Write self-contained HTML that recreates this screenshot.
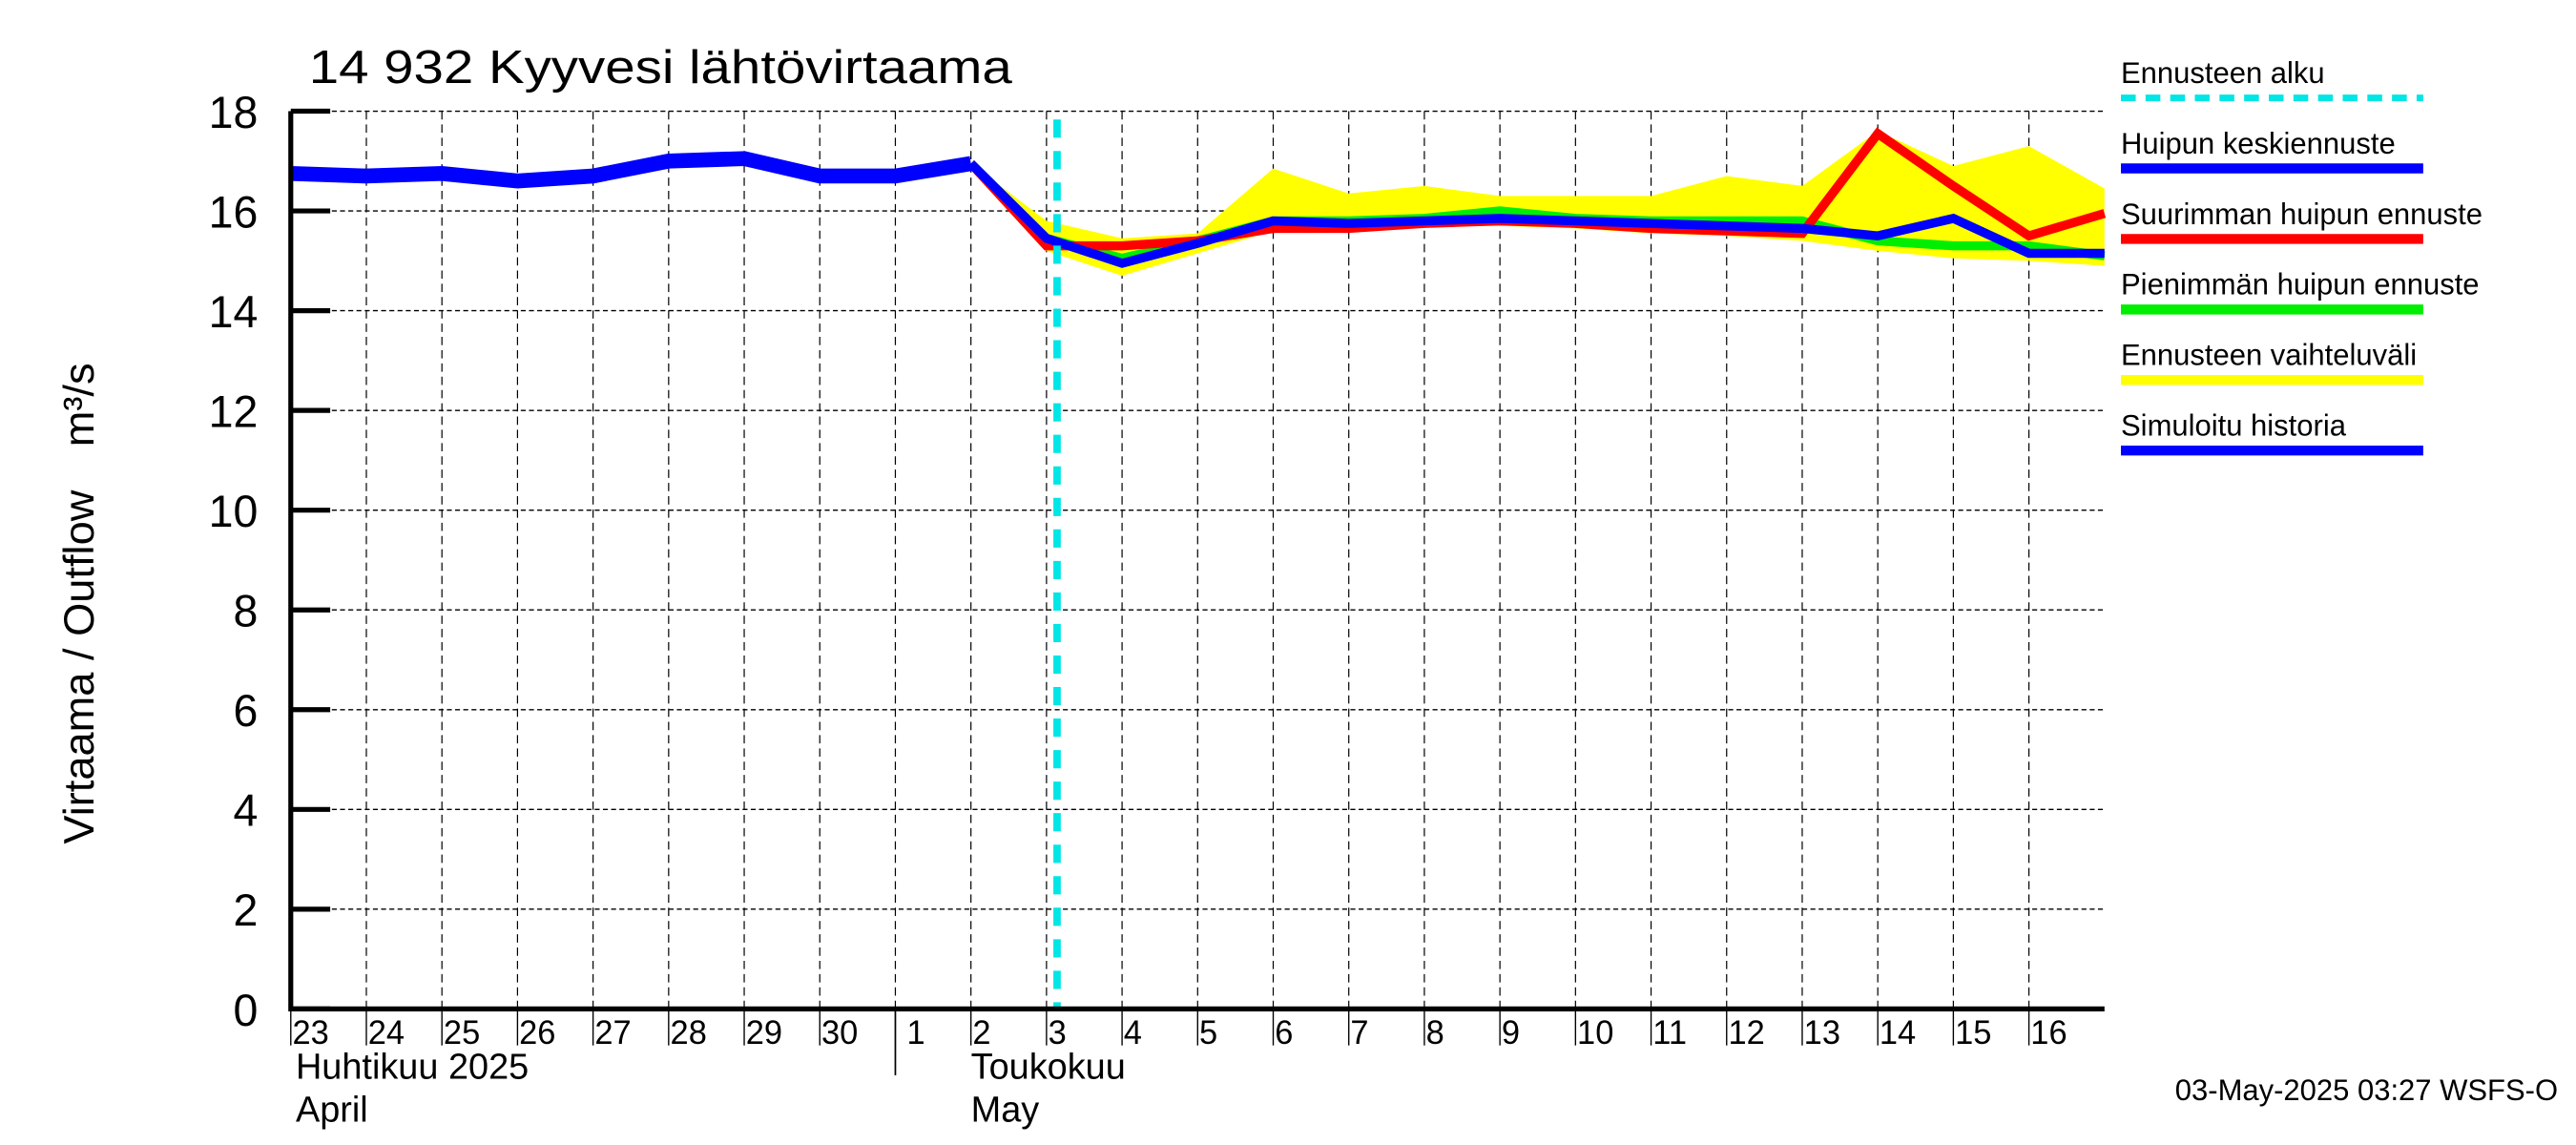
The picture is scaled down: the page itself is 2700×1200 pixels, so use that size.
<!DOCTYPE html>
<html><head><meta charset="utf-8"><style>
html,body{margin:0;padding:0;background:#fff}
svg{display:block;font-family:"Liberation Sans",sans-serif}
</style></head><body>
<svg id="chart" width="2700" height="1200" viewBox="0 0 1568 690" preserveAspectRatio="none" xmlns="http://www.w3.org/2000/svg">
<text x="188" y="50" font-size="28" textLength="428" lengthAdjust="spacingAndGlyphs">14 932 Kyyvesi lähtövirtaama</text>
<g id="grid"></g><g id="series"></g><g id="axes"></g><g id="legend"></g>
<text transform="translate(57,402) rotate(-90)" text-anchor="middle" font-size="26">Virtaama / Outflow</text>
<text transform="translate(57,244) rotate(-90)" text-anchor="middle" font-size="26">m³/s</text>
<text x="1557" y="663" text-anchor="end" font-size="18">03-May-2025 03:27 WSFS-O</text>
</svg>
<script>
const dayLabels=["23","24","25","26","27","28","29","30","1","2","3","4","5","6","7","8","9","10","11","12","13","14","15","16"];
const yTicks=[0,2,4,6,8,10,12,14,16,18];
const histValues=[16.75,16.7,16.75,16.6,16.7,17.0,17.05,16.7,16.7,16.95];
const meanValues=[16.95,15.45,14.95,15.35,15.8,15.75,15.8,15.85,15.8,15.75,15.7,15.65,15.5,15.85,15.15,15.15];
const maxValues=[16.95,15.3,15.3,15.4,15.65,15.65,15.75,15.8,15.75,15.65,15.6,15.55,17.55,16.5,15.5,15.95];
const minValues=[16.95,15.45,15.05,15.4,15.8,15.8,15.85,16.0,15.85,15.8,15.8,15.8,15.4,15.3,15.3,15.1];
const rangeUpper=[16.95,15.8,15.45,15.55,16.85,16.35,16.5,16.3,16.3,16.3,16.7,16.5,17.6,16.9,17.3,16.45];
const rangeLower=[16.95,15.2,14.7,15.15,15.6,15.6,15.7,15.7,15.65,15.55,15.5,15.4,15.2,15.05,15.0,14.9];
const forecastStartDay=10.14;
const NS="http://www.w3.org/2000/svg";
const L=177,R=1281,T=67,B=608,nDays=24;
const xs=d=>L+(R-L)*d/nDays;
const ys=v=>B-(B-T)*v/18;
function mk(tag,attrs,parent){const e=document.createElementNS(NS,tag);for(const k in attrs)e.setAttribute(k,attrs[k]);parent.appendChild(e);return e;}
const grid=document.getElementById('grid'),axes=document.getElementById('axes'),ser=document.getElementById('series'),leg=document.getElementById('legend');
yTicks.forEach(v=>{
 if(v>0){const g=mk('line',{x1:L,x2:R,y1:ys(v),y2:ys(v),stroke:'#000','stroke-width':0.8,'stroke-dasharray':'3,2'},grid);
 
 }
 const t=mk('line',{x1:L,x2:L+24,y1:ys(v),y2:ys(v),stroke:'#000','stroke-width':3},axes);
 
 
 const tx=mk('text',{x:157,y:ys(v)+10,'text-anchor':'end','font-size':27},axes);
 tx.textContent=v;
 
 
});
dayLabels.forEach((lab,i)=>{
 const x=xs(i);
 if(i>0){const g=mk('line',{x1:x,x2:x,y1:T,y2:B,stroke:'#000','stroke-width':0.7,'stroke-dasharray':'5,3'},grid);
 
 }
 const t=mk('line',{x1:x,x2:x,y1:B,y2:lab==="1"?648:630,stroke:'#000','stroke-width':lab==="1"?1:0.8},axes);
 
 
 const tx=mk('text',{x:x+(lab==="1"?7:1),y:629,'font-size':20},axes);
 tx.textContent=lab;
 
 
});
[["Huhtikuu  2025",180,650,'month-label-april-fi'],["April",180,676,'month-label-april-en'],["Toukokuu",591,650,'month-label-may-fi'],["May",591,676,'month-label-may-en']].forEach(a=>{
 const tx=mk('text',{x:a[1],y:a[2],'font-size':22},axes);
 tx.setAttribute('xml:space','preserve');
 tx.textContent=a[0];
 
 
});
const ax=mk('polyline',{points:`${L},${T} ${L},${B} ${R},${B}`,fill:'none',stroke:'#000','stroke-width':3},axes);


const off=9;
let pts=rangeUpper.map((v,i)=>`${xs(off+i)},${ys(v)}`).concat(rangeLower.map((v,i)=>`${xs(off+i)},${ys(v)}`).reverse());
const band=mk('polygon',{points:pts.join(' '),fill:'#ffff00',stroke:'none'},ser);


function line(arr,o,col,w,name){const p=mk('polyline',{points:arr.map((v,i)=>`${xs(o+i)},${ys(v)}`).join(' '),fill:'none',stroke:col,'stroke-width':w,'stroke-linejoin':'miter'},ser);
 
 }
line(minValues,off,'#00ee00',5.5,'min-peak-forecast-line');
line(maxValues,off,'#ff0000',5.5,'max-peak-forecast-line');
line(meanValues,off,'#0000ff',5.5,'mean-peak-forecast-line');
line(histValues,0,'#0000ff',9,'simulated-history-line');
const fs=mk('line',{x1:xs(forecastStartDay),x2:xs(forecastStartDay),y1:T+5,y2:B,stroke:'#00e5e5','stroke-width':4.5,'stroke-dasharray':'11,8'},ser);


const legItems=[["Ennusteen alku","#00e5e5",true],["Huipun keskiennuste","#0000ff"],["Suurimman huipun ennuste","#ff0000"],["Pienimmän huipun ennuste","#00ee00"],["Ennusteen vaihteluväli","#ffff00"],["Simuloitu historia","#0000ff"]];
legItems.forEach((it,i)=>{
 const y=43+i*42.5;
 const tx=mk('text',{x:1291,y:y+7,'font-size':18},leg);
 tx.textContent=it[0];
 
 
 const ln=mk('line',{x1:1291,x2:1475,y1:y+16,y2:y+16,stroke:it[1],'stroke-width':it[2]?4:6,'stroke-dasharray':it[2]?'9,6':'none'},leg);
 
 
});
</script>
</body></html>
